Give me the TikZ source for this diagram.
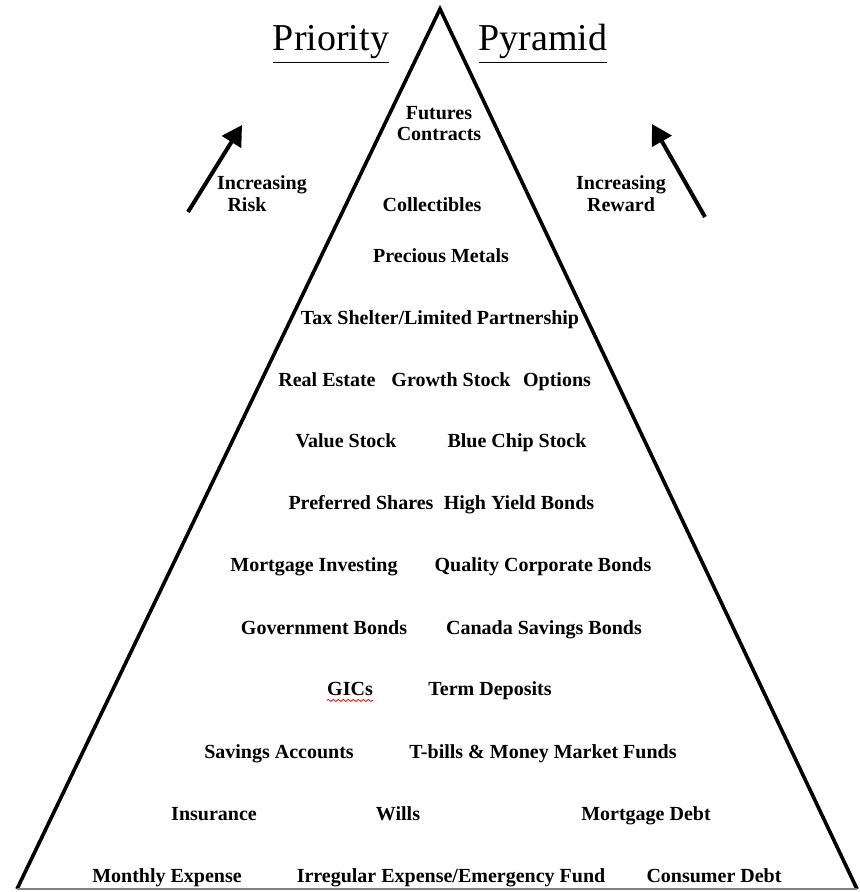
\documentclass[tikz,border=0pt]{standalone}
\usepackage{fontspec}
\setmainfont{Liberation Serif}
\usetikzlibrary{arrows.meta,decorations.pathmorphing}

\begin{document}
\begin{tikzpicture}[x=0.5pt,y=-0.5pt,
    item/.style={font=\fontsize{10}{12}\selectfont\bfseries,inner sep=0pt,
                 text height=1.5ex,text depth=.25ex},
    heading/.style={font=\fontsize{19}{22}\selectfont,inner sep=0pt,anchor=base},
    riskarrow/.style={-{Triangle[width=11pt,length=10pt]},line width=2pt},
    side/.style={line width=1.8pt,line join=miter}]
    \useasboundingbox (0,0) rectangle (859,892);

    % the pyramid
    \coordinate (bl) at (17,889);
    \coordinate (top) at (440,9);
    \coordinate (br) at (857,889);
    \draw[side] (bl) -- (top) -- (br);
    \draw[gray,line width=0.6pt] (bl) -- (br);

    \node[heading] (prio) at (331,51) {\underline{Priority}};
    \node[heading] (pyr) at (543,51) {\underline{Pyramid}};

    % risk and reward
    \coordinate (risk0) at (188,212);
    \coordinate (risk1) at (242,125);
    \coordinate (rew0) at (705,217);
    \coordinate (rew1) at (652,124);
    \draw[riskarrow] (risk0) -- (risk1);
    \draw[riskarrow] (rew0) -- (rew1);
    \node[item] (incrisk) at (262,184) {Increasing};
    \node[item] (risk) at (247,206) {Risk};
    \node[item] (increw) at (621,184) {Increasing};
    \node[item] (reward) at (621,206) {Reward};

    % levels, top to bottom
    \node[item] (futures) at (439,114) {Futures};
    \node[item] (contracts) at (439,135) {Contracts};
    \node[item] (collect) at (432,206) {Collectibles};
    \node[item] (metals) at (441,257) {Precious Metals};
    \node[item] (shelter) at (440,319) {Tax Shelter/Limited Partnership};
    \node[item] (estate) at (327,381) {Real Estate};
    \node[item] (growth) at (451,381) {Growth Stock};
    \node[item] (options) at (557,381) {Options};
    \node[item] (value) at (346,442) {Value Stock};
    \node[item] (bluechip) at (517,442) {Blue Chip Stock};
    \node[item] (preferred) at (361,504) {Preferred Shares};
    \node[item] (highyield) at (519,504) {High Yield Bonds};
    \node[item] (mortinv) at (314,566) {Mortgage Investing};
    \node[item] (corp) at (543,566) {Quality Corporate Bonds};
    \node[item] (gov) at (324,629) {Government Bonds};
    \node[item] (csb) at (544,629) {Canada Savings Bonds};
    \node[item] (gics) at (350,690) {GICs};
    \node[item] (term) at (490,690) {Term Deposits};
    \node[item] (savings) at (279,753) {Savings Accounts};
    \node[item] (tbills) at (543,753) {T-bills \& Money Market Funds};
    \node[item] (insur) at (214,815) {Insurance};
    \node[item] (wills) at (398,815) {Wills};
    \node[item] (mortdebt) at (646,815) {Mortgage Debt};
    \node[item] (monthly) at (167,877) {Monthly Expense};
    \node[item] (irreg) at (451,877) {Irregular Expense/Emergency Fund};
    \node[item] (consumer) at (714,877) {Consumer Debt};

    \draw[red,line width=0.4pt,decorate,decoration={snake,amplitude=0.5pt,segment length=2.5pt}]
        ([yshift=-1pt]gics.south west) -- ([yshift=-1pt]gics.south east);
\end{tikzpicture}
\end{document}
